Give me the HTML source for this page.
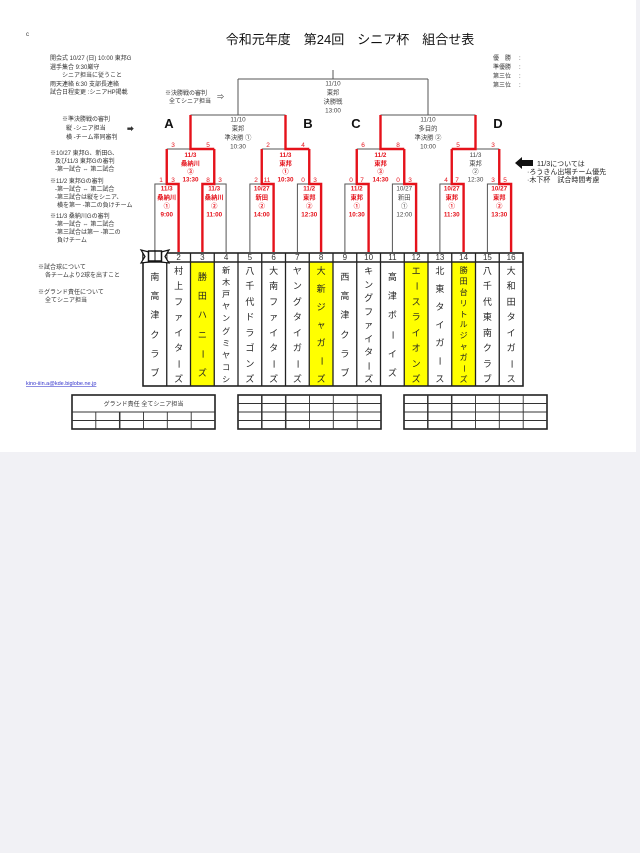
<!DOCTYPE html>
<html><head><meta charset="utf-8">
<style>
html,body{margin:0;padding:0;background:#f1f1f5;}
body{width:640px;height:853px;position:relative;overflow:hidden;font-family:"Liberation Sans","Noto Sans CJK JP",sans-serif;}
svg{position:absolute;left:0;top:0;}
.n{position:absolute;top:266px;height:118px;width:23.75px;display:flex;flex-direction:column;justify-content:space-between;align-items:center;font-size:9px;line-height:10px;color:#222;}
.n.s{top:272px;height:106px;}
.n.t{font-size:8px;line-height:9px;}
.n i{font-style:normal;display:block;}
.n i.v{transform:rotate(90deg);}
</style></head><body>
<svg width="640" height="853" viewBox="0 0 640 853" font-family="Liberation Sans, Noto Sans CJK JP, sans-serif">
<rect x="0" y="0" width="636" height="452" fill="#fff"/>
<text x="26" y="36" font-size="6" fill="#333">c</text>
<text x="350" y="44" font-size="13" text-anchor="middle" fill="#111">令和元年度　第24回　シニア杯　組合せ表</text>
<g font-size="6" fill="#333">
<text x="50" y="60">開会式 10/27 (日) 10:00 東邦G</text>
<text x="50" y="69">選手集合 9:30厳守</text>
<text x="62" y="77">シニア担当に従うこと</text>
<text x="50" y="86">雨天連絡 6:30 支部長連絡</text>
<text x="50" y="94">試合日程変更 :シニアHP掲載</text>
<text x="165" y="95">※決勝戦の審判</text>
<text x="169" y="103">全てシニア担当</text>
<text x="217" y="99" font-size="7">⇒</text>
<text x="62" y="121">※準決勝戦の審判</text>
<text x="66" y="130">縦 -シニア担当</text>
<text x="66" y="139">横 -チーム帯同審判</text>
<text x="127" y="131" font-size="7">➡</text>
<text x="50" y="155">※10/27 東邦G、新田G、</text>
<text x="55" y="163">及び11/3 東邦Gの審判</text>
<text x="55" y="171">-第一試合 ⇔ 第二試合</text>
<text x="50" y="183">※11/2 東邦Gの審判</text>
<text x="55" y="191">-第一試合 ⇔ 第二試合</text>
<text x="55" y="199">-第三試合は縦をシニア、</text>
<text x="57" y="207">横を第一 -第二の負けチーム</text>
<text x="50" y="218">※11/3 桑納川Gの審判</text>
<text x="55" y="226">-第一試合 ⇔ 第二試合</text>
<text x="55" y="234">-第三試合は第一 -第二の</text>
<text x="57" y="242">負けチーム</text>
<text x="38" y="269">※試合球について</text>
<text x="45" y="277">各チームより2球を出すこと</text>
<text x="38" y="294">※グランド責任について</text>
<text x="45" y="302">全てシニア担当</text>
<text x="493" y="60">優　勝</text><text x="519" y="60">:</text>
<text x="493" y="69">準優勝</text><text x="519" y="69">:</text>
<text x="493" y="78">第三位</text><text x="519" y="78">:</text>
<text x="493" y="87">第三位</text><text x="519" y="87">:</text>
</g>
<text x="26" y="385" font-size="5.5" fill="#33c" text-decoration="underline">kino-iiin.a@kde.biglobe.ne.jp</text>
<polygon points="515,163 522,157 522,160 533,160 533,166 522,166 522,169" fill="#111"/>
<g font-size="7" fill="#222">
<text x="537" y="166">11/3については</text>
<text x="527" y="174">·ろうきん出場チーム優先</text>
<text x="527" y="182">·木下杯　試合時間考慮</text>
</g>
<g font-size="13" fill="#111" text-anchor="middle" font-weight="bold">
<text x="169" y="128">A</text><text x="308" y="128">B</text><text x="356" y="128">C</text><text x="498" y="128">D</text>
</g>
<g stroke="#555" stroke-width="1" fill="none">
<path d="M154.9 252 V184 H178.6 V252 M166.75 184 V149"/>
<path d="M202.4 252 V184 H226.1 V252 M214.25 184 V149"/>
<path d="M249.9 252 V184 H273.6 V252 M261.75 184 V149"/>
<path d="M297.4 252 V184 H321.1 V252 M309.25 184 V149"/>
<path d="M344.9 252 V184 H368.6 V252 M356.75 184 V149"/>
<path d="M392.4 252 V184 H416.1 V252 M404.25 184 V149"/>
<path d="M439.9 252 V184 H463.6 V252 M451.75 184 V149"/>
<path d="M487.4 252 V184 H511.1 V252 M499.25 184 V149"/>
<path d="M166.75 149 H214.25 M190.5 149 V115"/>
<path d="M261.75 149 H309.25 M285.5 149 V115"/>
<path d="M356.75 149 H404.25 M380.5 149 V115"/>
<path d="M451.75 149 H499.25 M475.5 149 V115"/>
<path d="M190.5 115 H285.5 M238 115 V79"/>
<path d="M380.5 115 H475.5 M428 115 V79"/>
<path d="M238 79 H428 M333 79 V70"/>
</g>
<g stroke="#e5121b" stroke-width="2.4" fill="none">
<path d="M178.6 252 V184 H166.75 V149"/>
<path d="M202.4 252 V184 H214.25 V149"/>
<path d="M273.6 252 V184 H261.75 V149"/>
<path d="M321.1 252 V184 H309.25 V149"/>
<path d="M368.6 252 V184 H356.75 V149"/>
<path d="M416.1 252 V184 H404.25 V149"/>
<path d="M463.6 252 V184 H451.75 V149"/>
<path d="M511.1 252 V184 H499.25 V149"/>
<path d="M214.25 149 H190.5 V115"/>
<path d="M309.25 149 H285.5 V115"/>
<path d="M404.25 149 H380.5 V115"/>
<path d="M451.75 149 H475.5 V115"/>
</g>
<g font-size="6.5" fill="#e5121b" text-anchor="middle">
<text x="161" y="182">1</text><text x="173" y="182">3</text>
<text x="208" y="182">8</text><text x="220" y="182">3</text>
<text x="256" y="182">2</text><text x="267" y="182">11</text>
<text x="303" y="182">0</text><text x="315" y="182">3</text>
<text x="351" y="182">0</text><text x="362" y="182">7</text>
<text x="398" y="182">0</text><text x="410" y="182">3</text>
<text x="446" y="182">4</text><text x="457" y="182">7</text>
<text x="493" y="182">3</text><text x="505" y="182">5</text>
<text x="173" y="147">3</text><text x="208" y="147">5</text>
<text x="268" y="147">2</text><text x="303" y="147">4</text>
<text x="363" y="147">6</text><text x="398" y="147">8</text>
<text x="458" y="147">5</text><text x="493" y="147">3</text>
</g>
<g font-size="6.3" text-anchor="middle" fill="#e5121b" font-weight="bold">
<text x="166.75" y="190.5">11/3</text><text x="166.75" y="199.5">桑納川</text><text x="166.75" y="208">①</text><text x="166.75" y="216.5">9:00</text>
<text x="214.25" y="190.5">11/3</text><text x="214.25" y="199.5">桑納川</text><text x="214.25" y="208">②</text><text x="214.25" y="216.5">11:00</text>
<text x="261.75" y="190.5">10/27</text><text x="261.75" y="199.5">新田</text><text x="261.75" y="208">②</text><text x="261.75" y="216.5">14:00</text>
<text x="309.25" y="190.5">11/2</text><text x="309.25" y="199.5">東邦</text><text x="309.25" y="208">②</text><text x="309.25" y="216.5">12:30</text>
<text x="356.75" y="190.5">11/2</text><text x="356.75" y="199.5">東邦</text><text x="356.75" y="208">①</text><text x="356.75" y="216.5">10:30</text>
<text x="451.75" y="190.5">10/27</text><text x="451.75" y="199.5">東邦</text><text x="451.75" y="208">①</text><text x="451.75" y="216.5">11:30</text>
<text x="499.25" y="190.5">10/27</text><text x="499.25" y="199.5">東邦</text><text x="499.25" y="208">②</text><text x="499.25" y="216.5">13:30</text>
<text x="190.5" y="157">11/3</text><text x="190.5" y="165.5">桑納川</text><text x="190.5" y="173.5">③</text><text x="190.5" y="181.5">13:30</text>
<text x="285.5" y="157">11/3</text><text x="285.5" y="165.5">東邦</text><text x="285.5" y="173.5">①</text><text x="285.5" y="181.5">10:30</text>
<text x="380.5" y="157">11/2</text><text x="380.5" y="165.5">東邦</text><text x="380.5" y="173.5">③</text><text x="380.5" y="181.5">14:30</text>
</g>
<g font-size="6.3" text-anchor="middle" fill="#444">
<text x="404.25" y="190.5">10/27</text><text x="404.25" y="199.5">新田</text><text x="404.25" y="208">①</text><text x="404.25" y="216.5">12:00</text>
<text x="475.5" y="157">11/3</text><text x="475.5" y="165.5">東邦</text><text x="475.5" y="173.5">②</text><text x="475.5" y="181.5">12:30</text>
<text x="238" y="121.5">11/10</text><text x="238" y="130.5">東邦</text><text x="238" y="139.5">準決勝 ①</text><text x="238" y="148.5">10:30</text>
<text x="428" y="121.5">11/10</text><text x="428" y="130.5">多目的</text><text x="428" y="139.5">準決勝 ②</text><text x="428" y="148.5">10:00</text>
<text x="333" y="85.5">11/10</text><text x="333" y="94.5">東邦</text><text x="333" y="103.5">決勝戦</text><text x="333" y="112.5">13:00</text>
</g>
<g fill="#ffff00">
<rect x="190.5" y="262" width="23.75" height="124"/>
<rect x="309.25" y="262" width="23.75" height="124"/>
<rect x="404.25" y="262" width="23.75" height="124"/>
<rect x="451.75" y="262" width="23.75" height="124"/>
</g>
<g stroke="#222" fill="none">
<rect x="143" y="253" width="380" height="133" stroke-width="1.6"/>
<path d="M143 262 H523" stroke-width="1.4"/>
<path stroke-width="1.3" d="M166.75 253V386M190.5 253V386M214.25 253V386M238 253V386M261.75 253V386M285.5 253V386M309.25 253V386M333 253V386M356.75 253V386M380.5 253V386M404.25 253V386M428 253V386M451.75 253V386M475.5 253V386M499.25 253V386"/>
</g>
<g font-size="8" text-anchor="middle" fill="#333">
<text x="178.6" y="260">2</text><text x="202.4" y="260">3</text><text x="226.1" y="260">4</text><text x="249.9" y="260">5</text>
<text x="273.6" y="260">6</text><text x="297.4" y="260">7</text><text x="321.1" y="260">8</text><text x="344.9" y="260">9</text>
<text x="368.6" y="260">10</text><text x="392.4" y="260">11</text><text x="416.1" y="260">12</text><text x="439.9" y="260">13</text>
<text x="463.6" y="260">14</text><text x="487.4" y="260">15</text><text x="511.1" y="260">16</text>
</g>
<rect x="143.5" y="253.5" width="23" height="8" fill="#fff"/>
<path d="M141 250 L149 252 V262 L141 263 L145 256.5 Z" fill="#fff" stroke="#111" stroke-width="1.2"/>
<path d="M169 250 L161 252 V262 L169 263 L165 256.5 Z" fill="#fff" stroke="#111" stroke-width="1.2"/>
<rect x="148.5" y="251" width="13" height="10" fill="#fff" stroke="#111" stroke-width="1.5"/>
<path d="M155 251 V261" stroke="#111" stroke-width="1"/>
<g stroke="#222" fill="#fff">
<rect x="72" y="395" width="143" height="34" stroke-width="1.6"/>
<rect x="238" y="395" width="143" height="34" stroke-width="1.6"/>
<rect x="404" y="395" width="143" height="34" stroke-width="1.6"/>
</g>
<g stroke="#333" fill="none" stroke-width="0.9">
<path d="M72 412H215M72 420.5H215M95.8 412V429M143.5 412V429M167.3 412V429M191.2 412V429"/>
<path d="M119.7 412V429" stroke-width="1.5"/>
<path d="M238 403.5H381M238 412H381M238 420.5H381M309.5 395V429M333.3 395V429M357.2 395V429"/>
<path d="M261.8 395V429M285.7 395V429" stroke-width="1.5"/>
<path d="M404 403.5H547M404 412H547M404 420.5H547M475.5 395V429M499.3 395V429M523.2 395V429"/>
<path d="M427.8 395V429M451.7 395V429" stroke-width="1.5"/>
</g>
<text x="143.5" y="406" font-size="6" text-anchor="middle" fill="#333">グランド責任 全てシニア担当</text>
</svg>
<div class="n s" style="left:143px"><i>南</i><i>高</i><i>津</i><i>ク</i><i>ラ</i><i>ブ</i></div>
<div class="n" style="left:166.75px"><i>村</i><i>上</i><i>フ</i><i>ァ</i><i>イ</i><i>タ</i><i class="v">ー</i><i>ズ</i></div>
<div class="n s" style="left:190.5px"><i>勝</i><i>田</i><i>ハ</i><i>ニ</i><i class="v">ー</i><i>ズ</i></div>
<div class="n t" style="left:214.25px"><i>新</i><i>木</i><i>戸</i><i>ヤ</i><i>ン</i><i>グ</i><i>ミ</i><i>ヤ</i><i>コ</i><i>シ</i></div>
<div class="n" style="left:238px"><i>八</i><i>千</i><i>代</i><i>ド</i><i>ラ</i><i>ゴ</i><i>ン</i><i>ズ</i></div>
<div class="n" style="left:261.75px"><i>大</i><i>南</i><i>フ</i><i>ァ</i><i>イ</i><i>タ</i><i class="v">ー</i><i>ズ</i></div>
<div class="n" style="left:285.5px"><i>ヤ</i><i>ン</i><i>グ</i><i>タ</i><i>イ</i><i>ガ</i><i class="v">ー</i><i>ズ</i></div>
<div class="n" style="left:309.25px"><i>大</i><i>新</i><i>ジ</i><i>ャ</i><i>ガ</i><i class="v">ー</i><i>ズ</i></div>
<div class="n s" style="left:333px"><i>西</i><i>高</i><i>津</i><i>ク</i><i>ラ</i><i>ブ</i></div>
<div class="n" style="left:356.75px"><i>キ</i><i>ン</i><i>グ</i><i>フ</i><i>ァ</i><i>イ</i><i>タ</i><i class="v">ー</i><i>ズ</i></div>
<div class="n s" style="left:380.5px"><i>高</i><i>津</i><i>ボ</i><i class="v">ー</i><i>イ</i><i>ズ</i></div>
<div class="n" style="left:404.25px"><i>エ</i><i class="v">ー</i><i>ス</i><i>ラ</i><i>イ</i><i>オ</i><i>ン</i><i>ズ</i></div>
<div class="n" style="left:428px"><i>北</i><i>東</i><i>タ</i><i>イ</i><i>ガ</i><i class="v">ー</i><i>ス</i></div>
<div class="n t" style="left:451.75px"><i>勝</i><i>田</i><i>台</i><i>リ</i><i>ト</i><i>ル</i><i>ジ</i><i>ャ</i><i>ガ</i><i class="v">ー</i><i>ズ</i></div>
<div class="n" style="left:475.5px"><i>八</i><i>千</i><i>代</i><i>東</i><i>南</i><i>ク</i><i>ラ</i><i>ブ</i></div>
<div class="n" style="left:499.25px"><i>大</i><i>和</i><i>田</i><i>タ</i><i>イ</i><i>ガ</i><i class="v">ー</i><i>ス</i></div>
</body></html>
